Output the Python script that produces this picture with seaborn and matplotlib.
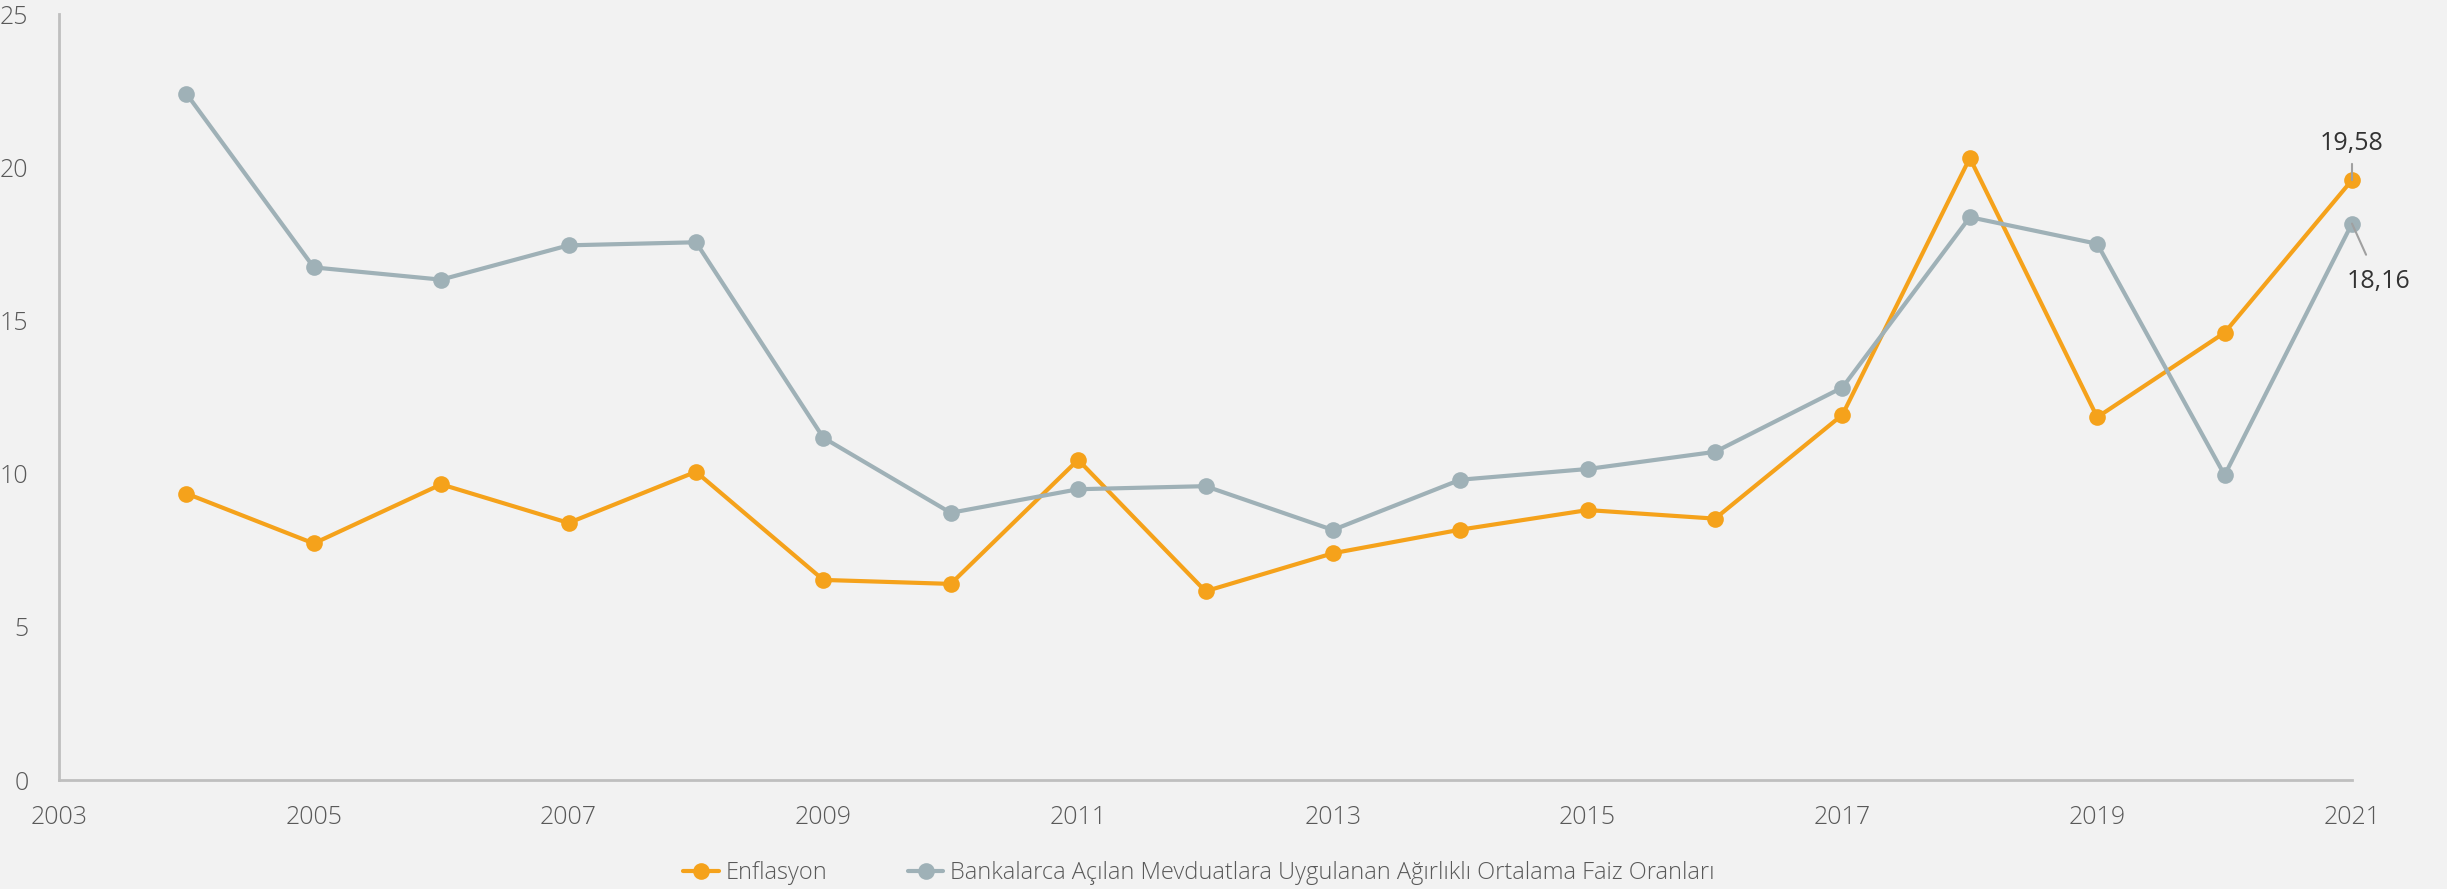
import numpy as np
import pandas as pd
import matplotlib
matplotlib.use("Agg")
import matplotlib.pyplot as plt
import seaborn as sns

# data
years = list(range(2004, 2022))
enflasyon = [9.35, 7.72, 9.65, 8.39, 10.06, 6.53, 6.40, 10.45, 6.16, 7.40,
             8.17, 8.81, 8.53, 11.92, 20.30, 11.84, 14.60, 19.58]
faiz = [22.40, 16.73, 16.33, 17.45, 17.55, 11.17, 8.72, 9.49, 9.59, 8.16,
        9.80, 10.15, 10.71, 12.81, 18.37, 17.50, 9.95, 18.16]
series_names = ["Enflasyon",
                "Bankalarca Açılan Mevduatlara Uygulanan Ağırlıklı Ortalama Faiz Oranları"]
colors = ["#f5a21b", "#9fb1b7"]
xticks = list(range(2003, 2022, 2))
yticks = [0, 5, 10, 15, 20, 25]

df = pd.DataFrame({
    "Yıl": years * 2,
    "Değer": enflasyon + faiz,
    "Seri": [series_names[0]] * len(years) + [series_names[1]] * len(years),
})

sns.set_theme(style="white")
plt.rcParams["font.family"] = ["Open Sans", "DejaVu Sans"]
bg = "#f2f2f2"

fig, ax = plt.subplots(figsize=(24.47, 8.89), dpi=100)
fig.patch.set_facecolor(bg)
ax.set_facecolor(bg)
fig.subplots_adjust(left=59 / 2447, right=2352 / 2447, top=1 - 14 / 889, bottom=1 - 780 / 889)

sns.lineplot(data=df, x="Yıl", y="Değer", hue="Seri", palette=colors,
             marker="o", markersize=12, markeredgewidth=0, linewidth=3,
             ax=ax, legend=False)
for ln in ax.lines:
    ln.set_clip_on(False)

ax.set_xlim(2003, 2021)
ax.set_ylim(0, 25)
ax.set_xticks(xticks)
ax.set_yticks(yticks)
ax.set_xlabel("")
ax.set_ylabel("")
ax.tick_params(axis="both", length=0, labelsize=18, labelcolor="#595959")
ax.tick_params(axis="x", pad=18)
ax.tick_params(axis="y", pad=22)
for lbl in ax.get_xticklabels() + ax.get_yticklabels():
    lbl.set_fontweight("light")
for s in ["top", "right"]:
    ax.spines[s].set_visible(False)
for s in ["left", "bottom"]:
    ax.spines[s].set_color("#bfbfbf")
    ax.spines[s].set_linewidth(2)

# end-of-line labels
ax.annotate("19,58", xy=(years[-1], enflasyon[-1]), xytext=(0, 17),
            textcoords="offset points", ha="center", va="bottom", fontsize=18,
            color="#333333",
            arrowprops=dict(arrowstyle="-", color="#a0a0a0", lw=1.5, shrinkA=3, shrinkB=0))
ax.annotate("18,16", xy=(years[-1], faiz[-1]), xytext=(-4, -33),
            textcoords="offset points", ha="left", va="top", fontsize=18,
            color="#333333",
            arrowprops=dict(arrowstyle="-", color="#a0a0a0", lw=1.5, shrinkA=9, shrinkB=0))

handles = [plt.Line2D([], [], color=c, marker="o", markersize=12, markeredgewidth=0,
                      linewidth=3) for c in colors]
leg = fig.legend(handles, series_names, loc="center", bbox_to_anchor=(0.49, 1 - 873 / 889),
                 ncol=2, frameon=False, fontsize=17, handlelength=1.5, handletextpad=0.3,
                 columnspacing=3.4)
for t in leg.get_texts():
    t.set_color("#595959")
    t.set_fontweight("light")

fig.savefig("out.png", dpi=100, facecolor=bg)
